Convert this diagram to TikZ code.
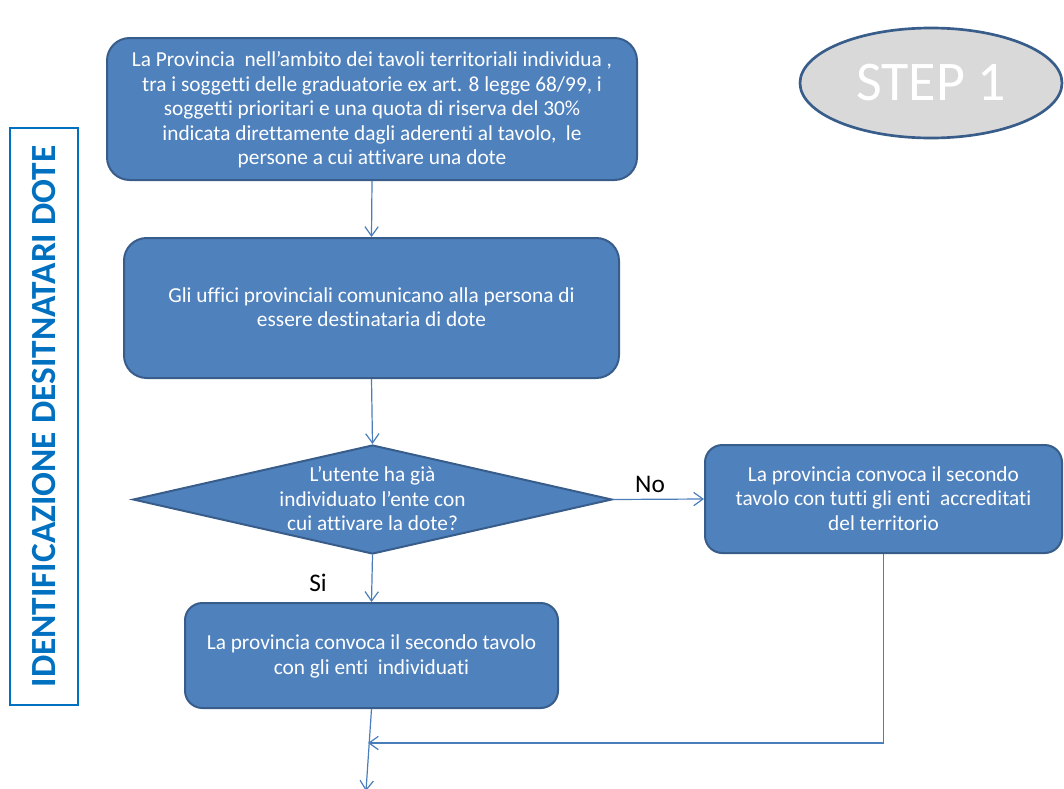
\documentclass[tikz,border=0pt]{standalone}
\usepackage{fontspec}
\setmainfont{Carlito}[Ligatures={TeX,CommonOff}]
\usetikzlibrary{arrows.meta,positioning,shapes.geometric}
\definecolor{boxfill}{HTML}{4F81BD}
\definecolor{boxline}{HTML}{385D8A}
\definecolor{flowline}{HTML}{4A7EBB}
\definecolor{stepgray}{HTML}{D9D9D9}
\definecolor{titleblue}{HTML}{0070C0}
% text block of a shape, centred a little below its middle
\newcommand{\flowtext}[1]{\makebox[0pt]{\smash{\raisebox{-5.6pt}{%
  \begin{tabular}{@{}c@{}}#1\end{tabular}}}}}
\tikzset{
  proc/.style={draw=boxline,fill=boxfill,line width=1.5pt,rounded corners=13pt,
               inner sep=0pt,text=white,font=\fontsize{16}{18.4}\selectfont},
  decision/.style={diamond,draw=boxline,fill=boxfill,line width=1.5pt,
                   inner sep=0pt,text=white,font=\fontsize{16}{18.4}\selectfont},
  stepoval/.style={ellipse,draw=boxline,fill=stepgray,line width=2pt,
                   text=white,font=\fontsize{42}{50}\selectfont},
  sidebar/.style={draw=titleblue,line width=1.5pt,text=titleblue,
                  font=\bfseries\fontsize{26.5}{30}\selectfont},
  answer/.style={text=black,font=\fontsize{19}{22}\selectfont},
  flowarr/.style={-{Straight Barb[length=7pt,width=10pt]},line width=0.9pt,
                  draw=flowline}
}

\begin{document}
\begin{tikzpicture}[x=0.75pt,y=-0.75pt]
  \useasboundingbox (0,0) rectangle (1064,789);
  \node[sidebar,rotate=90,minimum width=432.75pt,minimum height=51pt]
    (side) at (44,416.5) {IDENTIFICAZIONE DESITNATARI DOTE};
  \node[stepoval,minimum width=196.5pt,minimum height=82.5pt]
    (step) at (931,83) {STEP 1};
  \node[proc,rounded corners=17pt,minimum width=397.5pt,minimum height=106.5pt]
    (pick) at (372,109)
    {\flowtext{La Provincia \ nell’ambito dei tavoli territoriali individua ,\\
     tra i soggetti delle graduatorie ex art. 8 legge 68/99, i\\
     soggetti prioritari e una quota di riserva del 30\%\\
     indicata direttamente dagli aderenti al tavolo, \ le\\
     persone a cui attivare una dote}};
  \node[proc,rounded corners=17pt,minimum width=371.25pt,minimum height=105pt]
    (notify) at (371.5,308)
    {\flowtext{Gli uffici provinciali comunicano alla persona di\\
     essere destinataria di dote}};
  \node[decision,minimum width=359.25pt,minimum height=81.75pt]
    (known) at (372.5,499.5)
    {\flowtext{L’utente ha già\\individuato l’ente con\\
     cui attivare la dote?}};
  \node[proc,minimum width=267.75pt,minimum height=81pt]
    (allents) at (883.5,499)
    {\flowtext{La provincia convoca il secondo\\
     tavolo con tutti gli enti \ accreditati\\
     del territorio}};
  \node[proc,minimum width=279.75pt,minimum height=78.75pt]
    (chosen) at (371.5,655.5)
    {\flowtext{La provincia convoca il secondo tavolo\\
     con gli enti \ individuati}};
  \node[answer] (no) at (650,484) {No};
  \node[answer] (si) at (318,583) {Si};
  \coordinate (join) at (368,743);
  \coordinate (next) at (366,791);

  \draw[flowarr] (pick.south) -- (notify.north);
  \draw[flowarr] (notify.south) -- (known.north);
  \draw[flowarr] (known.east) -- (allents.west);
  \draw[flowarr] (known.south) -- (chosen.north);
  \draw[flowarr] (chosen.south) -- (next);
  \draw[flowarr] (allents.south) |- (join);
\end{tikzpicture}
\end{document}
